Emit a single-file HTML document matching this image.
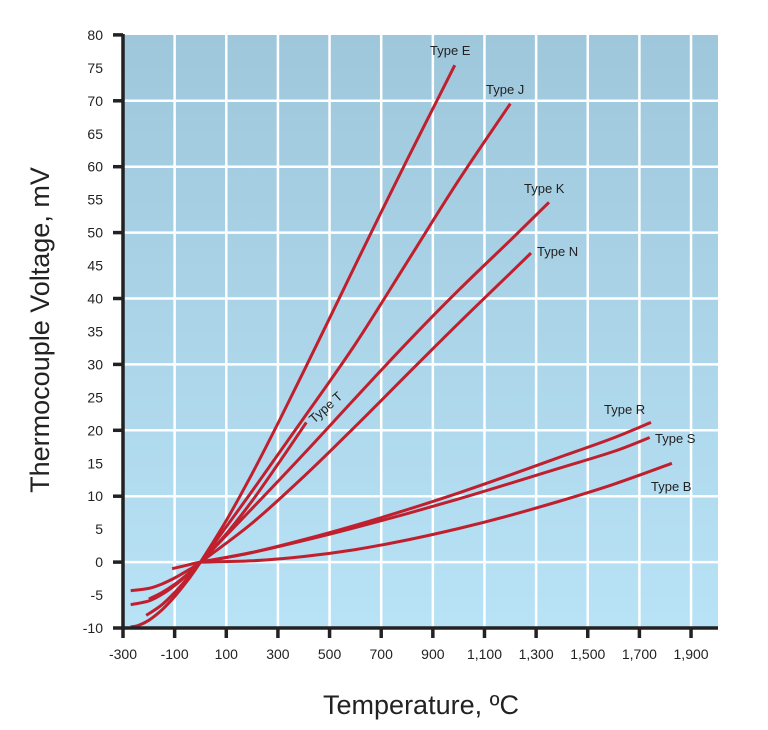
<!DOCTYPE html>
<html><head><meta charset="utf-8"><style>
html,body{margin:0;padding:0;background:#fff;}
svg{display:block;font-family:"Liberation Sans",Arial,sans-serif;}
</style></head><body>
<svg id="s" width="768" height="730" viewBox="0 0 768 730" xmlns="http://www.w3.org/2000/svg">
<defs><linearGradient id="g" x1="0" y1="0" x2="0" y2="1"><stop offset="0" stop-color="#9fc7db"/><stop offset="1" stop-color="#b8e2f6"/></linearGradient></defs>
<rect x="124" y="35" width="594" height="593" fill="url(#g)"/>
<g id="grid" stroke="#fff" stroke-width="2.5"></g>
<g id="curves" fill="none" stroke="#c0202e" stroke-width="3" stroke-linejoin="round" stroke-linecap="butt"></g>
<g id="axes" stroke="#222" stroke-width="3.5"></g>
<g id="lbl" font-size="14" fill="#222"></g>
<g font-size="13" fill="#222">
<text x="430" y="55">Type E</text>
<text x="486" y="94">Type J</text>
<text x="524" y="193">Type K</text>
<text x="537" y="256">Type N</text>
<text x="604" y="414">Type R</text>
<text x="655" y="443">Type S</text>
<text x="651" y="491">Type B</text>
<text transform="translate(314,424) rotate(-42)">Type T</text>
</g>
<text transform="translate(49,330) rotate(-90)" text-anchor="middle" font-size="27" fill="#222">Thermocouple Voltage, mV</text>
<text x="421" y="714" text-anchor="middle" font-size="27" fill="#222">Temperature, ºC</text>
</svg>
<script>
var NS="http://www.w3.org/2000/svg";
function X(t){return 123+(t+300)*0.2582;}
function Y(v){return 628-(v+10)*6.59;}
function el(p,n,a,txt){var e=document.createElementNS(NS,n);for(var k in a)e.setAttribute(k,a[k]);if(txt!==undefined)e.textContent=txt;p.appendChild(e);return e;}
var grid=document.getElementById('grid'),axes=document.getElementById('axes'),lbl=document.getElementById('lbl'),cur=document.getElementById('curves');
for(var t=-100;t<=1900;t+=200){var x=X(t);el(grid,'line',{x1:x,y1:35,x2:x,y2:628});}
for(var v=0;v<=70;v+=10){var y=Y(v);el(grid,'line',{x1:124,y1:y,x2:718,y2:y});}
el(axes,'line',{x1:123,y1:34,x2:123,y2:630});
el(axes,'line',{x1:121,y1:628,x2:718,y2:628});
for(var v=-10;v<=80;v+=10){var y=Y(v);el(axes,'line',{x1:113,y1:y,x2:123,y2:y});}
for(var v=-10;v<=80;v+=5){el(lbl,'text',{x:103,y:Y(v)+5,'text-anchor':'end'},String(v));}
var xl=['-300','-100','100','300','500','700','900','1,100','1,300','1,500','1,700','1,900'];
for(var i=0;i<12;i++){var t=-300+i*200,x=X(t);el(axes,'line',{x1:x,y1:628,x2:x,y2:638});el(lbl,'text',{x:x,y:659,'text-anchor':'middle'},xl[i]);}
var D={
E:[[-270,-9.835],[-240,-9.6],[-200,-8.825],[-150,-7.279],[-100,-5.237],[-50,-2.787],[0,0],[100,6.319],[200,13.421],[300,21.036],[400,28.946],[500,37.005],[600,45.093],[700,53.112],[800,61.017],[900,68.787],[985,75.4]],
J:[[-210,-8.095],[-150,-6.5],[-100,-4.633],[-50,-2.431],[0,0],[200,10.779],[400,21.848],[600,33.102],[800,45.494],[1000,57.953],[1200,69.553]],
K:[[-270,-6.458],[-200,-5.891],[-150,-4.913],[-100,-3.554],[-50,-1.889],[0,0],[200,8.138],[400,16.397],[600,24.905],[800,33.275],[1000,41.276],[1200,48.838],[1350,54.6]],
N:[[-270,-4.345],[-200,-3.99],[-150,-3.336],[-100,-2.407],[-50,-1.269],[0,0],[200,5.913],[400,12.974],[600,20.613],[800,28.455],[1000,36.256],[1200,43.846],[1280,46.9]],
T:[[-200,-5.603],[-150,-4.648],[-100,-3.379],[-50,-1.819],[0,0],[100,4.279],[200,9.288],[300,14.862],[410,21.2]],
R:[[-110,-1.0],[-50,-0.45],[0,0],[200,1.469],[400,3.408],[600,5.583],[800,7.95],[1000,10.506],[1200,13.228],[1400,16.035],[1600,18.849],[1745,21.2]],
S:[[0,0],[200,1.441],[400,3.259],[600,5.239],[800,7.345],[1000,9.587],[1200,11.951],[1400,14.373],[1600,16.777],[1740,18.9]],
B:[[0,0],[200,0.2],[400,0.85],[600,1.9],[800,3.35],[1000,5.1],[1200,7.1],[1400,9.35],[1600,11.8],[1826,15.0]]
};
for(var k in D){
  var P=D[k].map(function(a){return [X(a[0]),Y(a[1])];});
  var d='M'+P[0][0].toFixed(1)+','+P[0][1].toFixed(1);
  for(var i=0;i<P.length-1;i++){
    var p0=P[i-1]||P[i],p1=P[i],p2=P[i+1],p3=P[i+2]||p2;
    var c1x=p1[0]+(p2[0]-p0[0])/6,c1y=p1[1]+(p2[1]-p0[1])/6;
    var c2x=p2[0]-(p3[0]-p1[0])/6,c2y=p2[1]-(p3[1]-p1[1])/6;
    d+=' C'+c1x.toFixed(1)+','+c1y.toFixed(1)+' '+c2x.toFixed(1)+','+c2y.toFixed(1)+' '+p2[0].toFixed(1)+','+p2[1].toFixed(1);
  }
  el(cur,'path',{d:d});
}
</script>
</body></html>
